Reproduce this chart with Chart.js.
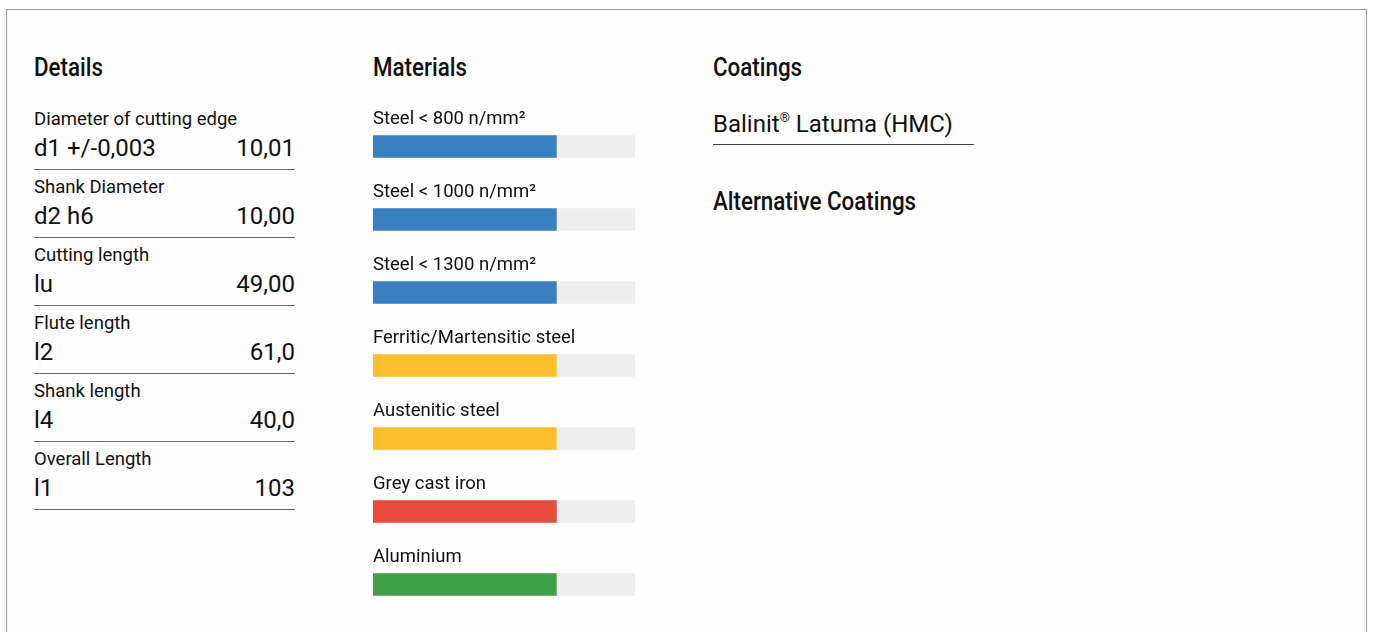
<!DOCTYPE html>
<html>
<head>
<meta charset="utf-8">
<script src="https://cdn.jsdelivr.net/npm/chart.js@4"></script>
<style>
  body { margin: 0; background: #fff; font-family: Roboto, sans-serif; color: #111; }
  .box { position: absolute; left: 6px; top: 9px; width: 1359px; height: 700px; border: 1px solid #9a9a9a; background: #fdfdfd; }
  h2 { position: absolute; margin: 0; font-family: Roboto, sans-serif; font-weight: 500; font-size: 26px; line-height: 30px; color: #111; transform: scaleX(0.86); transform-origin: left center; white-space: nowrap; }
  .details { position: absolute; left: 34px; top: 102px; width: 261px; }
  .row { padding-top: 7px; padding-bottom: 6px; border-bottom: 1px solid #666; }
  .row .lbl { font-size: 18.5px; line-height: 20px; margin-bottom: 4px; }
  .row .val { font-size: 24px; line-height: 30px; display: flex; justify-content: space-between; }
  .coat { position: absolute; left: 713px; top: 108px; width: 261px; font-size: 24px; line-height: 32px; padding-bottom: 4px; border-bottom: 1px solid #444; }
  .coat sup { font-size: 13px; vertical-align: 10px; line-height: 0; }
  #materials { position: absolute; left: 373px; top: 100px; }
</style>
</head>
<body>
<div class="box"></div>
<h2 style="left:34px;top:52px">Details</h2>
<h2 style="left:373px;top:52px">Materials</h2>
<h2 style="left:713px;top:52px">Coatings</h2>
<h2 style="left:713px;top:186px">Alternative Coatings</h2>

<div class="details" id="details"></div>
<div class="coat">Balinit<sup>®</sup> Latuma (HMC)</div>

<div id="materials" style="width:262px;height:521px"><canvas id="matChart"></canvas></div>

<script>
"use strict";

// Tool details
const detailNames = ["Diameter of cutting edge", "Shank Diameter", "Cutting length", "Flute length", "Shank length", "Overall Length"];
const detailSymbols = ["d1 +/-0,003", "d2 h6", "lu", "l2", "l4", "l1"];
const detailValues = ["10,01", "10,00", "49,00", "61,0", "40,0", "103"];

// Material suitability (percent of full bar)
const materials = ["Steel < 800 n/mm²", "Steel < 1000 n/mm²", "Steel < 1300 n/mm²", "Ferritic/Martensitic steel", "Austenitic steel", "Grey cast iron", "Aluminium"];
const suitability = [70, 70, 70, 70, 70, 70, 70];
const fullScale = [100, 100, 100, 100, 100, 100, 100];
const materialColors = ["#3a7fc1", "#3a7fc1", "#3a7fc1", "#fbbf2b", "#fbbf2b", "#e84a3d", "#41a047"];

let html = "";
for (let i = 0; i < detailNames.length; i++) {
    html += '<div class="row"><div class="lbl">' + detailNames[i] + '</div>' +
            '<div class="val"><span>' + detailSymbols[i] + '</span><span>' + detailValues[i] + '</span></div></div>';
}
document.getElementById("details").innerHTML = html;

// labels above each bar
const barLabels = {
    id: "barLabels",
    afterDatasetsDraw(chart) {
        let c = chart.ctx;
        let meta = chart.getDatasetMeta(0);
        c.save();
        c.fillStyle = "#111";
        c.font = "18.5px Roboto";
        c.textBaseline = "middle";
        c.textAlign = "left";
        meta.data.forEach(function(bar, i) {
            c.fillText(materials[i], chart.chartArea.left, bar.y - 27);
        });
        c.restore();
    }
};

let ctx_mat = document.getElementById("matChart").getContext("2d");
let matChart = new Chart(ctx_mat, {
    type: "bar",
    data: {
        labels: materials,
        datasets: [
            {
                data: suitability,
                backgroundColor: materialColors,
                barThickness: 22,
                grouped: false,
                order: 0
            },
            {
                data: fullScale,
                backgroundColor: "#eeeeee",
                barThickness: 22,
                grouped: false,
                order: 1
            }
        ]
    },
    options: {
        indexAxis: "y",
        responsive: true,
        maintainAspectRatio: false,
        animation: false,
        layout: { padding: { top: 10, left: 0, right: 0, bottom: 0 } },
        plugins: {
            legend: { display: false },
            tooltip: { enabled: false }
        },
        scales: {
            x: { display: false, min: 0, max: 100 },
            y: { display: false }
        }
    },
    plugins: [barLabels]
});
</script>
</body>
</html>
